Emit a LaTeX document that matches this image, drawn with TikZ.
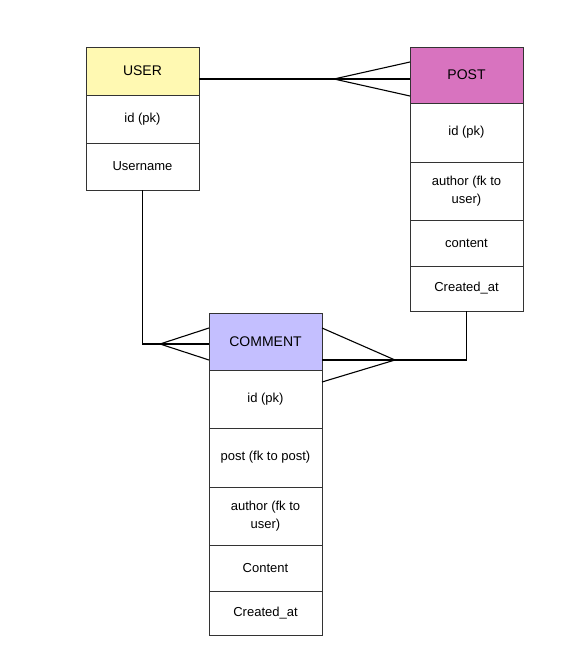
\documentclass[tikz,border=0pt]{standalone}
\usepackage{fontspec}
\setmainfont{Liberation Sans}
\begin{document}
\begin{tikzpicture}[x=1pt,y=-1pt,
  cell/.style={draw=black!80, line width=0.9pt, minimum width=113pt, inner sep=0pt, outer sep=0pt,
    align=center, font=\fontsize{13}{18}\selectfont, text=black},
  head/.style={cell, font=\fontsize{14}{17}\selectfont},
  conn/.style={draw=black, line width=1.1pt}]
\useasboundingbox (0,0) rectangle (585,661);
\definecolor{userc}{HTML}{FFF9B2}
\definecolor{postc}{HTML}{D873BF}
\definecolor{commc}{HTML}{C4BFFF}
% USER
\node[head, fill=userc, minimum height=48pt] (uh) at (142.5,71) {USER};
\node[cell, minimum height=48pt] (ui) at (142.5,119) {id (pk)};
\node[cell, minimum height=47pt] (un) at (142.5,166.5) {Username};
% POST
\node[head, fill=postc, minimum height=56pt] (ph) at (466.5,75) {POST};
\node[cell, minimum height=59pt] (pi) at (466.5,132.5) {id (pk)};
\node[cell, minimum height=58pt] (pa) at (466.5,191) {author (fk to\\user)};
\node[cell, minimum height=46pt] (pt) at (466.5,243) {content};
\node[cell, minimum height=45pt] (pc) at (466.5,288.5) {Created\_at};
% COMMENT
\node[head, fill=commc, minimum height=57pt] (ch) at (265.5,341.5) {COMMENT};
\node[cell, minimum height=58pt] (ci) at (265.5,399) {id (pk)};
\node[cell, minimum height=59pt] (cp) at (265.5,457.5) {post (fk to post)};
\node[cell, minimum height=58pt] (ca) at (265.5,516) {author (fk to\\user)};
\node[cell, minimum height=46pt] (ct) at (265.5,568) {Content};
\node[cell, minimum height=44pt] (cc) at (265.5,613) {Created\_at};
% connectors
\coordinate (a1) at (334,79);
\coordinate (b1) at (160,344);
\coordinate (c1) at (395,360);
\draw[conn] (uh.east |- a1) -- (ph.west |- a1);
\draw[conn] (ph.west |- 0,62) -- (a1) -- (ph.west |- 0,96);
\draw[conn] (un.south) -- (un.south |- b1) -- (ch.west |- b1);
\draw[conn] (ch.west |- 0,328) -- (b1) -- (ch.west |- 0,360);
\draw[conn] (pc.south) -- (pc.south |- c1) -- (ch.east |- c1);
\draw[conn] (ch.east |- 0,328) -- (c1) -- (ch.east |- 0,382);
\end{tikzpicture}
\end{document}
